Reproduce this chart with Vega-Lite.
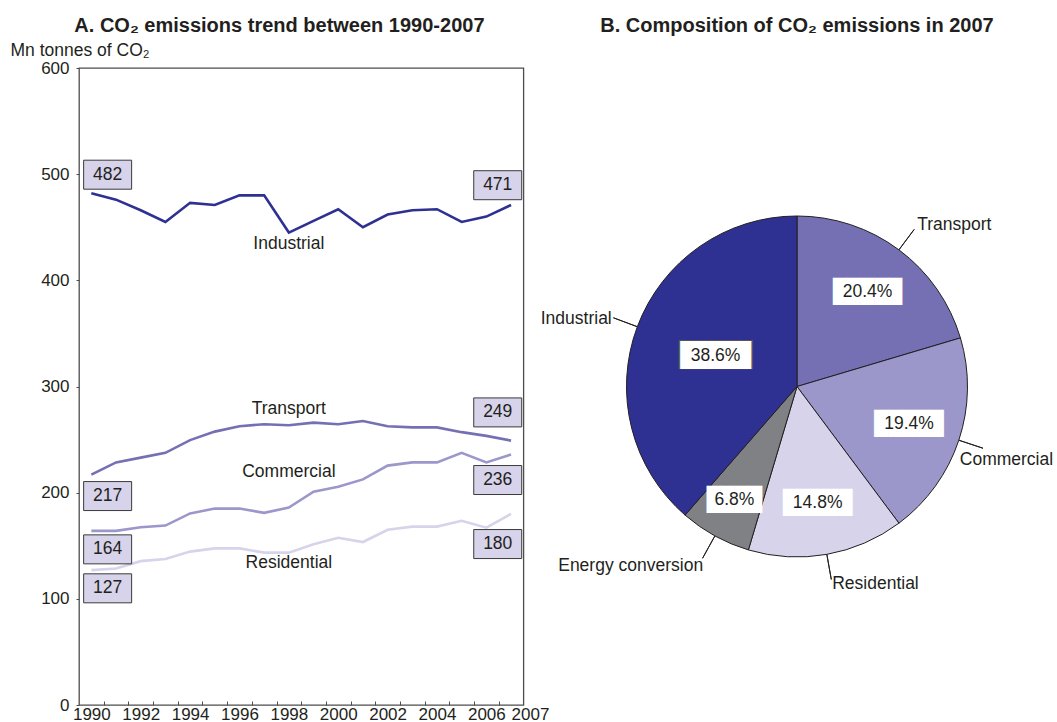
{
  "$schema": "https://vega.github.io/schema/vega-lite/v6.json",
  "padding": {"left": 9, "top": 15, "right": 0, "bottom": 0},
  "bounds": "flush",
  "spacing": 63,
  "resolve": {"scale": {"color": "independent"}},
  "config": {
    "font": "Liberation Sans",
    "title": {"font": "Liberation Sans", "fontSize": 20, "fontWeight": "bold", "color": "#231f20"},
    "axis": {"labelFont": "Liberation Sans", "labelFontSize": 17, "labelColor": "#231f20", "tickColor": "#4d4d4d", "titleFont": "Liberation Sans", "domain": false, "grid": false, "labelOverlap": false},
    "text": {"font": "Liberation Sans", "fontSize": 17.5, "color": "#231f20"}
  },
  "datasets": {
    "series": [
      {"sector": "Industrial", "year": 1990, "value": 482}, {"sector": "Industrial", "year": 1991, "value": 476}, {"sector": "Industrial", "year": 1992, "value": 466}, {"sector": "Industrial", "year": 1993, "value": 455}, {"sector": "Industrial", "year": 1994, "value": 473}, {"sector": "Industrial", "year": 1995, "value": 471}, {"sector": "Industrial", "year": 1996, "value": 480}, {"sector": "Industrial", "year": 1997, "value": 480}, {"sector": "Industrial", "year": 1998, "value": 445}, {"sector": "Industrial", "year": 1999, "value": 456}, {"sector": "Industrial", "year": 2000, "value": 467}, {"sector": "Industrial", "year": 2001, "value": 450}, {"sector": "Industrial", "year": 2002, "value": 462}, {"sector": "Industrial", "year": 2003, "value": 466}, {"sector": "Industrial", "year": 2004, "value": 467}, {"sector": "Industrial", "year": 2005, "value": 455}, {"sector": "Industrial", "year": 2006, "value": 460}, {"sector": "Industrial", "year": 2007, "value": 471},
      {"sector": "Transport", "year": 1990, "value": 217}, {"sector": "Transport", "year": 1991, "value": 228.5}, {"sector": "Transport", "year": 1992, "value": 233}, {"sector": "Transport", "year": 1993, "value": 237.5}, {"sector": "Transport", "year": 1994, "value": 249.5}, {"sector": "Transport", "year": 1995, "value": 257.5}, {"sector": "Transport", "year": 1996, "value": 262.5}, {"sector": "Transport", "year": 1997, "value": 264.5}, {"sector": "Transport", "year": 1998, "value": 263.5}, {"sector": "Transport", "year": 1999, "value": 266}, {"sector": "Transport", "year": 2000, "value": 264.5}, {"sector": "Transport", "year": 2001, "value": 267.5}, {"sector": "Transport", "year": 2002, "value": 262.5}, {"sector": "Transport", "year": 2003, "value": 261.5}, {"sector": "Transport", "year": 2004, "value": 261.5}, {"sector": "Transport", "year": 2005, "value": 257}, {"sector": "Transport", "year": 2006, "value": 253.5}, {"sector": "Transport", "year": 2007, "value": 249},
      {"sector": "Commercial", "year": 1990, "value": 164}, {"sector": "Commercial", "year": 1991, "value": 164}, {"sector": "Commercial", "year": 1992, "value": 167.5}, {"sector": "Commercial", "year": 1993, "value": 169}, {"sector": "Commercial", "year": 1994, "value": 180.5}, {"sector": "Commercial", "year": 1995, "value": 185}, {"sector": "Commercial", "year": 1996, "value": 185}, {"sector": "Commercial", "year": 1997, "value": 181}, {"sector": "Commercial", "year": 1998, "value": 186}, {"sector": "Commercial", "year": 1999, "value": 201}, {"sector": "Commercial", "year": 2000, "value": 205.5}, {"sector": "Commercial", "year": 2001, "value": 212.5}, {"sector": "Commercial", "year": 2002, "value": 225.5}, {"sector": "Commercial", "year": 2003, "value": 228.5}, {"sector": "Commercial", "year": 2004, "value": 228.5}, {"sector": "Commercial", "year": 2005, "value": 237.5}, {"sector": "Commercial", "year": 2006, "value": 228.5}, {"sector": "Commercial", "year": 2007, "value": 236},
      {"sector": "Residential", "year": 1990, "value": 127}, {"sector": "Residential", "year": 1991, "value": 128.5}, {"sector": "Residential", "year": 1992, "value": 135.5}, {"sector": "Residential", "year": 1993, "value": 137.5}, {"sector": "Residential", "year": 1994, "value": 144.5}, {"sector": "Residential", "year": 1995, "value": 147.5}, {"sector": "Residential", "year": 1996, "value": 147.5}, {"sector": "Residential", "year": 1997, "value": 143.5}, {"sector": "Residential", "year": 1998, "value": 143.5}, {"sector": "Residential", "year": 1999, "value": 151.5}, {"sector": "Residential", "year": 2000, "value": 157.5}, {"sector": "Residential", "year": 2001, "value": 153.5}, {"sector": "Residential", "year": 2002, "value": 165}, {"sector": "Residential", "year": 2003, "value": 168}, {"sector": "Residential", "year": 2004, "value": 168}, {"sector": "Residential", "year": 2005, "value": 173.5}, {"sector": "Residential", "year": 2006, "value": 167}, {"sector": "Residential", "year": 2007, "value": 180}
    ],
    "names": [
      {"sector": "Industrial", "year": 1998, "value": 434},
      {"sector": "Transport", "year": 1998, "value": 279},
      {"sector": "Commercial", "year": 1998, "value": 219},
      {"sector": "Residential", "year": 1998, "value": 133.5}
    ],
    "boxes": [
      {"sector": "Industrial", "year": 1990.66, "value": 499.5, "amount": 482},
      {"sector": "Industrial", "year": 2006.46, "value": 489.6, "amount": 471},
      {"sector": "Transport", "year": 1990.66, "value": 196.8, "amount": 217},
      {"sector": "Transport", "year": 2006.46, "value": 275.6, "amount": 249},
      {"sector": "Commercial", "year": 1990.66, "value": 146.6, "amount": 164},
      {"sector": "Commercial", "year": 2006.46, "value": 211.9, "amount": 236},
      {"sector": "Residential", "year": 1990.66, "value": 109.9, "amount": 127},
      {"sector": "Residential", "year": 2006.46, "value": 151.6, "amount": 180}
    ],
    "pie": [
      {"sector": "Transport", "share": 0.204, "idx": 1},
      {"sector": "Commercial", "share": 0.194, "idx": 2},
      {"sector": "Residential", "share": 0.148, "idx": 3},
      {"sector": "Energy conversion", "share": 0.068, "idx": 4},
      {"sector": "Industrial", "share": 0.386, "idx": 5}
    ]
  },
  "hconcat": [
    {
      "width": 444.4,
      "height": 637,
      "view": {"stroke": "#4d4d4d", "strokeWidth": 1.3},
      "title": {"text": "A. CO₂ emissions trend between 1990-2007", "frame": "bounds", "anchor": "middle", "offset": -11, "baseline": "alphabetic"},
      "resolve": {"axis": {"x": "independent"}},
      "layer": [
        {
          "data": {"name": "series"},
          "mark": {"type": "line", "strokeWidth": 2.6},
          "encoding": {
            "x": {"field": "year", "type": "quantitative", "title": null,
              "scale": {"domain": [1989.5, 2007.5], "nice": false, "zero": false},
              "axis": {"orient": "bottom", "values": [1990, 1992, 1994, 1996, 1998, 2000, 2002, 2004, 2006, 2007], "format": "d",
                "ticks": false, "tickSize": 0, "labelPadding": 1, "labelFlush": false, "labelOverlap": false, "labelBound": false,
                "labelAlign": {"condition": {"test": "datum.value == 2007", "value": "left"}, "value": "center"}}},
            "y": {"field": "value", "type": "quantitative", "title": "Mn tonnes of CO₂",
              "scale": {"domain": [0, 600], "nice": false},
              "axis": {"values": [0, 100, 200, 300, 400, 500, 600], "tickSize": 3, "labelPadding": 7,
                "titleAngle": 0, "titleAlign": "left", "titleBaseline": "alphabetic", "titleX": -69, "titleY": -13,
                "titleFontSize": 17.5, "titleFontWeight": "normal", "titleColor": "#231f20"}},
            "color": {"field": "sector", "type": "nominal", "legend": null,
              "scale": {"domain": ["Industrial", "Transport", "Commercial", "Residential", "Energy conversion"], "range": ["#2e3192", "#7570b3", "#9c97ca", "#d6d3eb", "#808184"]}}
          }
        },
        {
          "data": {"name": "names"},
          "mark": {"type": "text", "align": "center", "baseline": "middle"},
          "encoding": {
            "x": {"field": "year", "type": "quantitative", "title": null, "scale": {"domain": [1989.5, 2007.5], "nice": false, "zero": false},
              "axis": {"orient": "bottom", "values": [1990.5, 1991.5, 1992.5, 1993.5, 1994.5, 1995.5, 1996.5, 1997.5, 1998.5, 1999.5, 2000.5, 2001.5, 2002.5, 2003.5, 2004.5, 2005.5, 2006.5],
                "labels": false, "ticks": true, "tickSize": -4, "tickWidth": 1}},
            "y": {"field": "value", "type": "quantitative", "title": "Mn tonnes of CO₂", "scale": {"domain": [0, 600], "nice": false}},
            "text": {"field": "sector"}
          }
        },
        {
          "data": {"name": "boxes"},
          "mark": {"type": "point", "shape": "M-1,-0.604L1,-0.604L1,0.604L-1,0.604Z", "size": 2304, "filled": true, "fill": "#d6d3ea", "stroke": "#3a3a3a", "strokeWidth": 1, "opacity": 1},
          "encoding": {
            "x": {"field": "year", "type": "quantitative", "title": null, "axis": null, "scale": {"domain": [1989.5, 2007.5], "nice": false, "zero": false}},
            "y": {"field": "value", "type": "quantitative", "title": "Mn tonnes of CO₂", "scale": {"domain": [0, 600], "nice": false}}
          }
        },
        {
          "data": {"name": "boxes"},
          "mark": {"type": "text", "align": "center", "baseline": "middle"},
          "encoding": {
            "x": {"field": "year", "type": "quantitative", "title": null, "axis": null, "scale": {"domain": [1989.5, 2007.5], "nice": false, "zero": false}},
            "y": {"field": "value", "type": "quantitative", "title": "Mn tonnes of CO₂", "scale": {"domain": [0, 600], "nice": false}},
            "text": {"field": "amount", "type": "quantitative"}
          }
        }
      ]
    },
    {
      "width": 420,
      "height": 637,
      "view": {"stroke": null},
      "title": {"text": "B. Composition of CO₂ emissions in 2007", "frame": "group", "anchor": "middle", "offset": 16, "baseline": "alphabetic"},
      "data": {"name": "pie"},
      "encoding": {
        "theta": {"field": "share", "type": "quantitative", "stack": true},
        "order": {"field": "idx", "type": "quantitative", "sort": "ascending"}
      },
      "layer": [
        {
          "mark": {"type": "arc", "radius": 170.5, "stroke": "#231f20", "strokeWidth": 1},
          "encoding": {
            "color": {"field": "sector", "type": "nominal", "legend": null,
              "scale": {"domain": ["Industrial", "Transport", "Commercial", "Residential", "Energy conversion"], "range": ["#2e3192", "#7570b3", "#9c97ca", "#d6d3eb", "#808184"]}}
          }
        },
        {
          "mark": {"type": "arc", "radius": 196, "radius2": 170.5, "padAngle": 3, "filled": false, "color": "#231f20", "strokeWidth": 1}
        },
        {
          "mark": {"type": "text", "radius": 118, "font": "DejaVu Sans Mono", "fontSize": 23, "color": "#ffffff", "align": "center", "baseline": "middle"},
          "encoding": {"text": {"condition": {"test": "indexof(['Transport','Commercial','Residential'], datum.sector) >= 0", "value": "█████"}, "value": ""}}
        },
        {
          "mark": {"type": "text", "radius": 130, "font": "DejaVu Sans Mono", "fontSize": 23, "color": "#ffffff", "align": "center", "baseline": "middle"},
          "encoding": {"text": {"condition": {"test": "datum.sector == 'Energy conversion'", "value": "████"}, "value": ""}}
        },
        {
          "mark": {"type": "text", "radius": 87, "font": "DejaVu Sans Mono", "fontSize": 24.5, "color": "#555555", "align": "center", "baseline": "middle"},
          "encoding": {"text": {"condition": {"test": "datum.sector == 'Industrial'", "value": "█████"}, "value": ""}}
        },
        {
          "mark": {"type": "text", "radius": 87, "font": "DejaVu Sans Mono", "fontSize": 23.5, "color": "#ffffff", "align": "center", "baseline": "middle"},
          "encoding": {"text": {"condition": {"test": "datum.sector == 'Industrial'", "value": "█████"}, "value": ""}}
        },
        {
          "mark": {"type": "text", "radius": 118, "align": "center", "baseline": "middle"},
          "encoding": {"text": {"condition": {"test": "indexof(['Transport','Commercial','Residential'], datum.sector) < 0", "value": ""}, "field": "share", "type": "quantitative", "format": ".1%"}}
        },
        {
          "mark": {"type": "text", "radius": 130, "align": "center", "baseline": "middle"},
          "encoding": {"text": {"condition": {"test": "datum.sector != 'Energy conversion'", "value": ""}, "field": "share", "type": "quantitative", "format": ".1%"}}
        },
        {
          "mark": {"type": "text", "radius": 87, "align": "center", "baseline": "middle"},
          "encoding": {"text": {"condition": {"test": "datum.sector != 'Industrial'", "value": ""}, "field": "share", "type": "quantitative", "format": ".1%"}}
        },
        {
          "mark": {"type": "text", "radius": 201, "align": "left", "baseline": "middle"},
          "encoding": {"text": {"condition": {"test": "datum.sector != 'Transport' && datum.sector != 'Residential'", "value": ""}, "field": "sector"}}
        },
        {
          "mark": {"type": "text", "radius": 201, "align": "left", "baseline": "middle", "dx": -28, "dy": 10},
          "encoding": {"text": {"condition": {"test": "datum.sector != 'Commercial'", "value": ""}, "field": "sector"}}
        },
        {
          "mark": {"type": "text", "radius": 201, "align": "right", "baseline": "middle", "dx": 3, "dy": 3},
          "encoding": {"text": {"condition": {"test": "datum.sector != 'Energy conversion' && datum.sector != 'Industrial'", "value": ""}, "field": "sector"}}
        }
      ]
    }
  ]
}
